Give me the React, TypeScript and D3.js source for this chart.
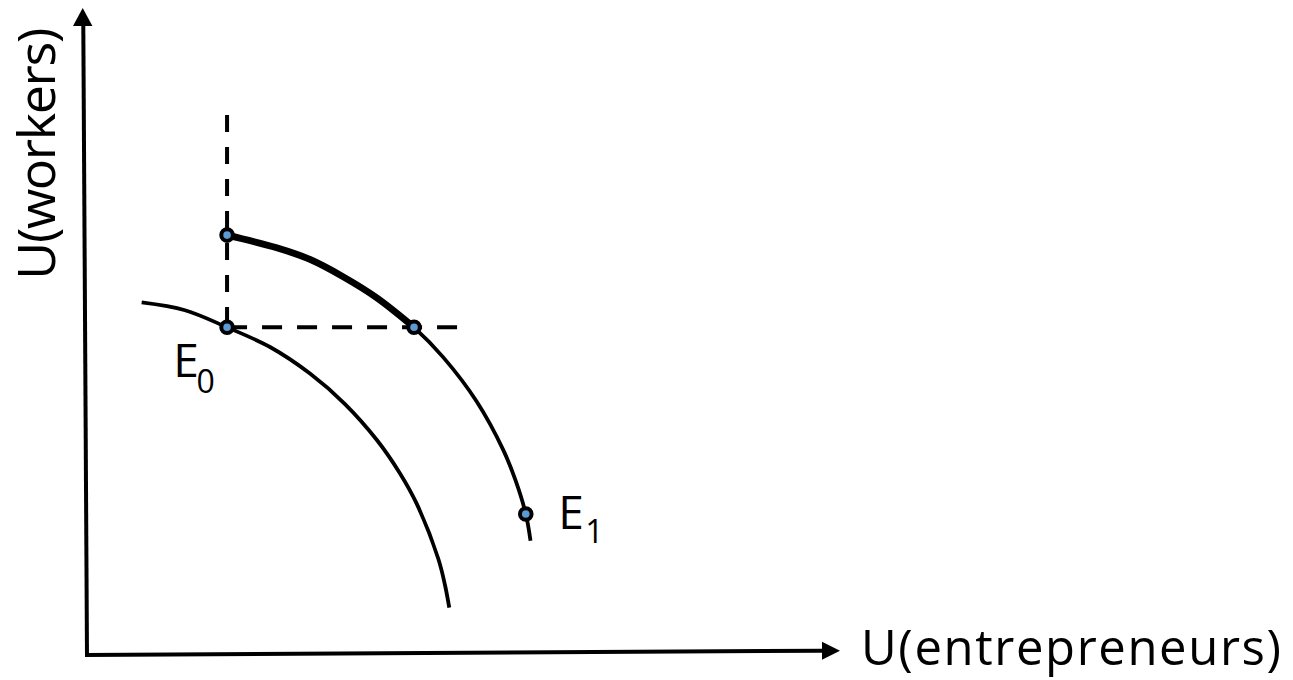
import React from "react";
import * as d3 from "d3";

// Utility-possibility frontiers, values (arbitrary units 0..100)
const innerX = [7.26, 13.01, 18.6, 24.3, 29.61, 34.26, 38.47, 41.57, 43.78, 46.65, 47.54, 48.11];
const innerY = [54.49, 53.29, 50.65, 47.6, 43.5, 38.79, 33.27, 28.06, 23.39, 14.87, 10.82, 7.32];

const outerX = [18.6, 25.19, 29.61, 34.04, 38.47, 43.43, 47.32, 51.75, 55.29, 56.89, 58.27, 58.9];
const outerY = [64.9, 62.94, 61.14, 58.45, 55.22, 50.65, 46.0, 39.18, 31.67, 27.05, 21.79, 17.67];

// bold part of the outer frontier: from its top end to the point level with E0
const boldCount = 6;

// marked points: top of outer frontier, E0, outer point level with E0, E1
const markX = [18.6, 18.6, 43.43, 58.27];
const markY = [64.9, 50.65, 50.65, 21.79];

// guide lines
const vGuideX = 18.6;
const vGuideY = [83.46, 50.65];
const hGuideY = 50.65;
const hGuideX = [18.6, 49.27];

const xLabel = "U(entrepreneurs)";
const yLabel = "U(workers)";

const W = 1293;
const H = 680;
const FONT = "'Open Sans', 'Noto Sans', sans-serif";

export default function App() {
  const x = d3.scaleLinear().domain([0, 100]).range([87, 840]);
  const y = d3.scaleLinear().domain([0, 100]).range([655, 8]);

  const line = d3
    .line<[number, number]>()
    .x((d) => x(d[0]))
    .y((d) => y(d[1]))
    .curve(d3.curveCatmullRom.alpha(0.5));

  const inner: [number, number][] = innerX.map((v, i) => [v, innerY[i]]);
  const outer: [number, number][] = outerX.map((v, i) => [v, outerY[i]]);
  const bold = outer.slice(0, boldCount);

  const ox = x(0);
  const oy = y(0);
  const xEnd = x(100);
  const yEnd = y(100);

  const e0x = x(markX[1]);
  const e0y = y(markY[1]);
  const e1x = x(markX[3]);
  const e1y = y(markY[3]);

  return (
    <svg
      width={W}
      height={H}
      style={{ position: "absolute", left: 0, top: 0, background: "#fff" }}
    >
      <rect x={0} y={0} width={W} height={H} fill="#fff" />
      {/* axes */}
      <line x1={ox} y1={oy + 2} x2={ox - 3.7} y2={yEnd + 18} stroke="#000" strokeWidth={4} />
      <path
        d={`M${ox - 4.3},${yEnd} L${ox - 4.3 - 9.7},${yEnd + 18} L${ox - 4.3 + 9.7},${yEnd + 18} Z`}
        fill="#000"
      />
      <line x1={ox - 2} y1={oy} x2={xEnd - 18} y2={oy - 4.3} stroke="#000" strokeWidth={4} />
      <path
        d={`M${xEnd},${oy - 4.3} L${xEnd - 18},${oy - 4.3 - 9} L${xEnd - 18},${oy - 4.3 + 9} Z`}
        fill="#000"
      />

      {/* dashed guides */}
      <line
        x1={x(vGuideX)}
        y1={y(vGuideY[0])}
        x2={x(vGuideX)}
        y2={y(vGuideY[1])}
        stroke="#000"
        strokeWidth={4}
        strokeDasharray="17 15"
      />
      <line
        x1={x(hGuideX[0])}
        y1={y(hGuideY)}
        x2={x(hGuideX[1])}
        y2={y(hGuideY)}
        stroke="#000"
        strokeWidth={4}
        strokeDasharray="20 15"
      />

      {/* frontiers */}
      <path d={line(inner) || ""} fill="none" stroke="#000" strokeWidth={3.8} />
      <path d={line(outer) || ""} fill="none" stroke="#000" strokeWidth={3.8} />
      <path d={line(bold) || ""} fill="none" stroke="#000" strokeWidth={6.8} strokeLinecap="round" />

      {/* markers */}
      {markX.map((v, i) => (
        <circle key={i} cx={x(v)} cy={y(markY[i])} r={5.8} fill="#5B9BD5" stroke="#000" strokeWidth={4} />
      ))}

      {/* point labels */}
      <text x={e0x - 53.7} y={e0y + 50} fontFamily={FONT} fontSize={46} fill="#000">E</text>
      <text x={e0x - 30.5} y={e0y + 66} fontFamily={FONT} fontSize={32} fill="#000">0</text>
      <text x={e1x + 32.5} y={e1y + 15} fontFamily={FONT} fontSize={46} fill="#000">E</text>
      <text x={e1x + 59.5} y={e1y + 29} fontFamily={FONT} fontSize={32} fill="#000">1</text>

      {/* axis titles */}
      <text
        x={861}
        y={665}
        fontFamily={FONT}
        fontSize={49}
        fill="#000"
        textLength={420}
        lengthAdjust="spacing"
      >
        {xLabel}
      </text>
      <text
        transform="translate(55,279.7) rotate(-90)"
        fontFamily={FONT}
        fontSize={52}
        fill="#000"
        textLength={252}
        lengthAdjust="spacing"
      >
        {yLabel}
      </text>
    </svg>
  );
}
